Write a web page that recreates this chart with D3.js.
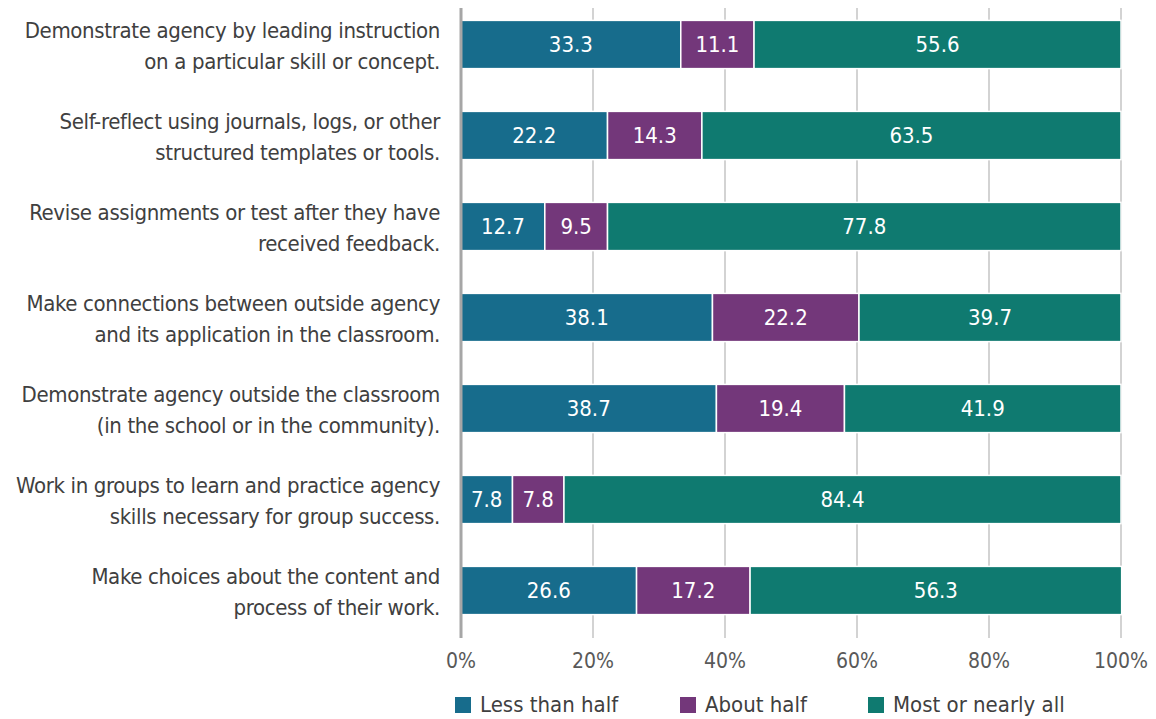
<!DOCTYPE html>
<html>
<head>
<meta charset="utf-8">
<script src="https://cdn.jsdelivr.net/npm/d3@7"></script>
<style>
  body { margin: 0; background: #fff; }
  svg text { font-family: "Liberation Sans Narrow", "DejaVu Sans Condensed", "Arial Narrow", sans-serif; }
</style>
</head>
<body>
<svg id="chart" width="1156" height="719"></svg>
<script>
// chart values
const categories = [
  ["Demonstrate agency by leading instruction", "on a particular skill or concept."],
  ["Self-reflect using journals, logs, or other", "structured templates or tools."],
  ["Revise assignments or test after they have", "received feedback."],
  ["Make connections between outside agency", "and its application in the classroom."],
  ["Demonstrate agency outside the classroom", "(in the school or in the community)."],
  ["Work in groups to learn and practice agency", "skills necessary for group success."],
  ["Make choices about the content and", "process of their work."]
]
const seriesNames = ["Less than half", "About half", "Most or nearly all"]
const lessThanHalf = [33.3, 22.2, 12.7, 38.1, 38.7, 7.8, 26.6]
const aboutHalf = [11.1, 14.3, 9.5, 22.2, 19.4, 7.8, 17.2]
const mostOrAll = [55.6, 63.5, 77.8, 39.7, 41.9, 84.4, 56.3]
const tickValues = [0, 20, 40, 60, 80, 100]

const colors = ["#176c8c", "#73377a", "#0f7a70"]

let rows = categories.map((c, i) => ({
    idx: i,
    label: c,
    vals: [lessThanHalf[i], aboutHalf[i], mostOrAll[i]]
}))

let svg = d3.select("#chart")

let x = d3.scaleLinear().domain([0, 100]).range([461, 1121])
let y = d3.scaleBand().domain(d3.range(categories.length)).range([-1, 636]).paddingInner(0.47).paddingOuter(0.235)

// gridlines
svg.append("g")
    .selectAll("line")
    .data(tickValues.slice(1))
    .enter()
    .append("line")
    .attr("x1", d => x(d)).attr("x2", d => x(d))
    .attr("y1", 8).attr("y2", 638)
    .attr("stroke", "#c4c4c4")
    .attr("stroke-width", 1.5)

// stacked bars
let stack = []
rows.forEach(r => {
    let start = 0
    r.vals.forEach((v, k) => {
        stack.push({row: r.idx, k: k, x0: start, x1: start + v, v: v})
        start += v
    })
})

svg.append("g")
    .selectAll("rect")
    .data(stack)
    .enter()
    .append("rect")
    .attr("x", d => x(d.x0))
    .attr("width", d => x(d.x1) - x(d.x0))
    .attr("y", d => y(d.row))
    .attr("height", y.bandwidth())
    .attr("fill", d => colors[d.k])
    .attr("stroke", "#fff")
    .attr("stroke-width", 1.5)

svg.append("g")
    .selectAll("text")
    .data(stack)
    .enter()
    .append("text")
    .attr("x", d => (x(d.x0) + x(d.x1)) / 2)
    .attr("y", d => y(d.row) + y.bandwidth() / 2)
    .attr("dy", "0.36em")
    .attr("text-anchor", "middle")
    .attr("fill", "#fff")
    .style("font-size", "22px")
    .text(d => d.v.toFixed(1))

// axis line at 0
svg.append("line")
    .attr("x1", x(0)).attr("x2", x(0))
    .attr("y1", 8).attr("y2", 638)
    .attr("stroke", "#a6a6a6")
    .attr("stroke-width", 3)

// x axis labels
svg.append("g")
    .selectAll("text")
    .data(tickValues)
    .enter()
    .append("text")
    .attr("x", d => x(d))
    .attr("y", 668)
    .attr("text-anchor", "middle")
    .attr("fill", "#595959")
    .style("font-size", "21px")
    .text(d => d + "%")

// category labels
let lab = svg.append("g")
    .selectAll("text")
    .data(rows)
    .enter()
    .append("text")
    .attr("text-anchor", "end")
    .attr("fill", "#404040")
    .style("font-size", "22px")
    .style("letter-spacing", "-0.35px")

lab.selectAll("tspan")
    .data(d => d.label.map((t, j) => ({t: t, j: j, row: d.idx})))
    .enter()
    .append("tspan")
    .attr("x", 440)
    .attr("y", d => y(d.row) + y.bandwidth() / 2 + (d.j == 0 ? -7 : 24))
    .text(d => d.t)

// legend
const legendX = [455, 680, 868]
let leg = svg.append("g")
    .selectAll("g")
    .data(seriesNames)
    .enter()
    .append("g")
    .attr("transform", (d, i) => `translate(${legendX[i]}, 697)`)

leg.append("rect")
    .attr("width", 16).attr("height", 16)
    .attr("fill", (d, i) => colors[i])

leg.append("text")
    .attr("x", 25)
    .attr("y", 15)
    .attr("fill", "#404040")
    .style("font-size", "22px")
    .text(d => d)
</script>
</body>
</html>
